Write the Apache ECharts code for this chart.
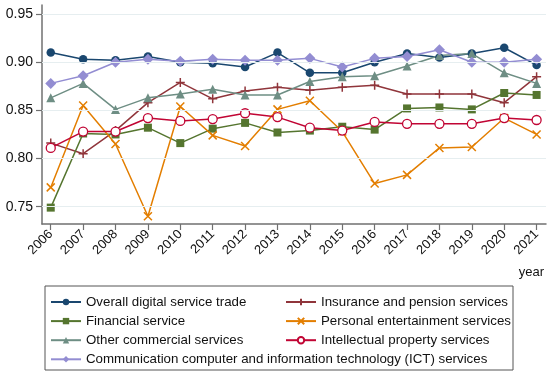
<!DOCTYPE html>
<html>
<head>
<meta charset="utf-8">
<script src="https://cdn.jsdelivr.net/npm/echarts@6/dist/echarts.min.js"></script>
<style>html,body{margin:0;padding:0;background:#fff}#c{width:550px;height:375px}</style>
</head>
<body>
<div id="c"></div>
<script>
var years = [2006,2007,2008,2009,2010,2011,2012,2013,2014,2015,2016,2017,2018,2019,2020,2021];
var yTicks = [0.75,0.80,0.85,0.90,0.95];
var overall      = [0.910,0.903,0.902,0.906,0.900,0.899,0.895,0.910,0.889,0.889,0.900,0.909,0.905,0.909,0.915,0.897];
var insurance    = [0.816,0.805,0.829,0.858,0.879,0.862,0.870,0.874,0.871,0.874,0.876,0.867,0.867,0.867,0.858,0.885];
var financial    = [0.749,0.826,0.825,0.832,0.816,0.831,0.837,0.827,0.829,0.833,0.830,0.852,0.853,0.851,0.868,0.866];
var personal     = [0.770,0.855,0.815,0.740,0.854,0.824,0.813,0.851,0.860,0.828,0.774,0.783,0.811,0.812,0.842,0.825];
var otherComm    = [0.863,0.878,0.851,0.863,0.867,0.872,0.866,0.866,0.880,0.885,0.886,0.896,0.907,0.909,0.889,0.878];
var intellectual = [0.811,0.828,0.828,0.842,0.839,0.841,0.847,0.843,0.832,0.829,0.838,0.836,0.836,0.836,0.842,0.840];
var ict          = [0.878,0.886,0.900,0.903,0.901,0.903,0.902,0.902,0.904,0.895,0.904,0.906,0.913,0.900,0.900,0.903];

var names = ['Overall digital service trade','Insurance and pension services','Financial service','Personal entertainment services','Other commercial services','Intellectual property services','Communication computer and information technology (ICT) services'];
var datasets = [overall, insurance, financial, personal, otherComm, intellectual, ict];
var colors = ['#1a476f','#90353b','#55752f','#e37e00','#6e8e84','#c10534','#938dd2'];
var symbols = ['circle','path://M0,-5L0,5M-5,0L5,0','rect','path://M-5,-5L5,5M-5,5L5,-5','triangle','circle','diamond'];
var hollow = [false,false,false,false,false,true,false];
var sizes = [8.5,9,8,8,9,9,11];

function pairs(arr){ return years.map(function(y,i){ return [y, arr[i]]; }); }

var series = datasets.map(function(d,i){
  var isPath = symbols[i].indexOf('path://')===0;
  return {
    name: names[i], type:'line', data: pairs(d), z: 3,
    symbol: symbols[i], symbolSize: sizes[i], showAllSymbol:true,
    color: colors[i],
    lineStyle:{color:colors[i], width:1.5, type:'solid'},
    itemStyle:{color: hollow[i] ? '#ffffff' : colors[i], borderColor: colors[i], borderWidth: isPath ? 1.5 : (hollow[i] ? 1.3 : 0), borderType:'solid'},
    emphasis:{disabled:true}
  };
});
series.push({
  type:'line', data:[], z:1, silent:true,
  markLine:{silent:true, symbol:'none', label:{show:false},
    lineStyle:{color:'#e6eef0', width:1.2, type:'solid'},
    data: yTicks.map(function(v){ return {yAxis:v}; })}
});

var FF = 'Liberation Sans, Arial, sans-serif';
var chart = echarts.init(document.getElementById('c'));
chart.setOption({
  animation:false,
  textStyle: {fontFamily:FF, color:'#111'},
  grid:{left:42, top:5, right:4, bottom:151, containLabel:false},
  xAxis:{type:'value', min:2005.73, max:2021.29,
    axisLine:{show:true, lineStyle:{color:'#707070', width:1.5}},
    axisTick:{show:true, length:6, lineStyle:{color:'#707070', width:1.2}, customValues: years},
    axisLabel:{rotate:45, fontSize:13, color:'#111', margin:8, fontFamily:FF, customValues: years, formatter:function(v){return String(Math.round(v));}},
    splitLine:{show:false}},
  yAxis:{type:'value', min:0.732, max:0.9594,
    axisLine:{show:true, lineStyle:{color:'#707070', width:1.5}},
    axisTick:{show:true, length:6, lineStyle:{color:'#707070', width:1.2}, customValues: yTicks},
    axisLabel:{fontSize:14, color:'#111', margin:9, fontFamily:FF, customValues: yTicks, formatter:function(v){return v.toFixed(2);}},
    splitLine:{show:false}},
  legend:[
    {data:[names[0],names[2],names[4],names[6]], orient:'vertical', left:50, top:295.5, itemGap:6.1, itemWidth:30, itemHeight:8,
      textStyle:{fontSize:13.3, color:'#111', fontFamily:FF}, padding:0, selectedMode:false},
    {data:[names[1],names[3],names[5]], orient:'vertical', left:285, top:295.5, itemGap:6.1, itemWidth:30, itemHeight:8,
      textStyle:{fontSize:13.3, color:'#111', fontFamily:FF}, padding:0, selectedMode:false}
  ],
  graphic:[
    {type:'rect', shape:{x:45, y:286, width:468, height:84}, style:{fill:'none', stroke:'#555', lineWidth:1}, silent:true},
    {type:'text', right:6, top:266, style:{text:'year', fontSize:13, fill:'#111', fontFamily:FF}}
  ],
  series: series
});
</script>
</body>
</html>
